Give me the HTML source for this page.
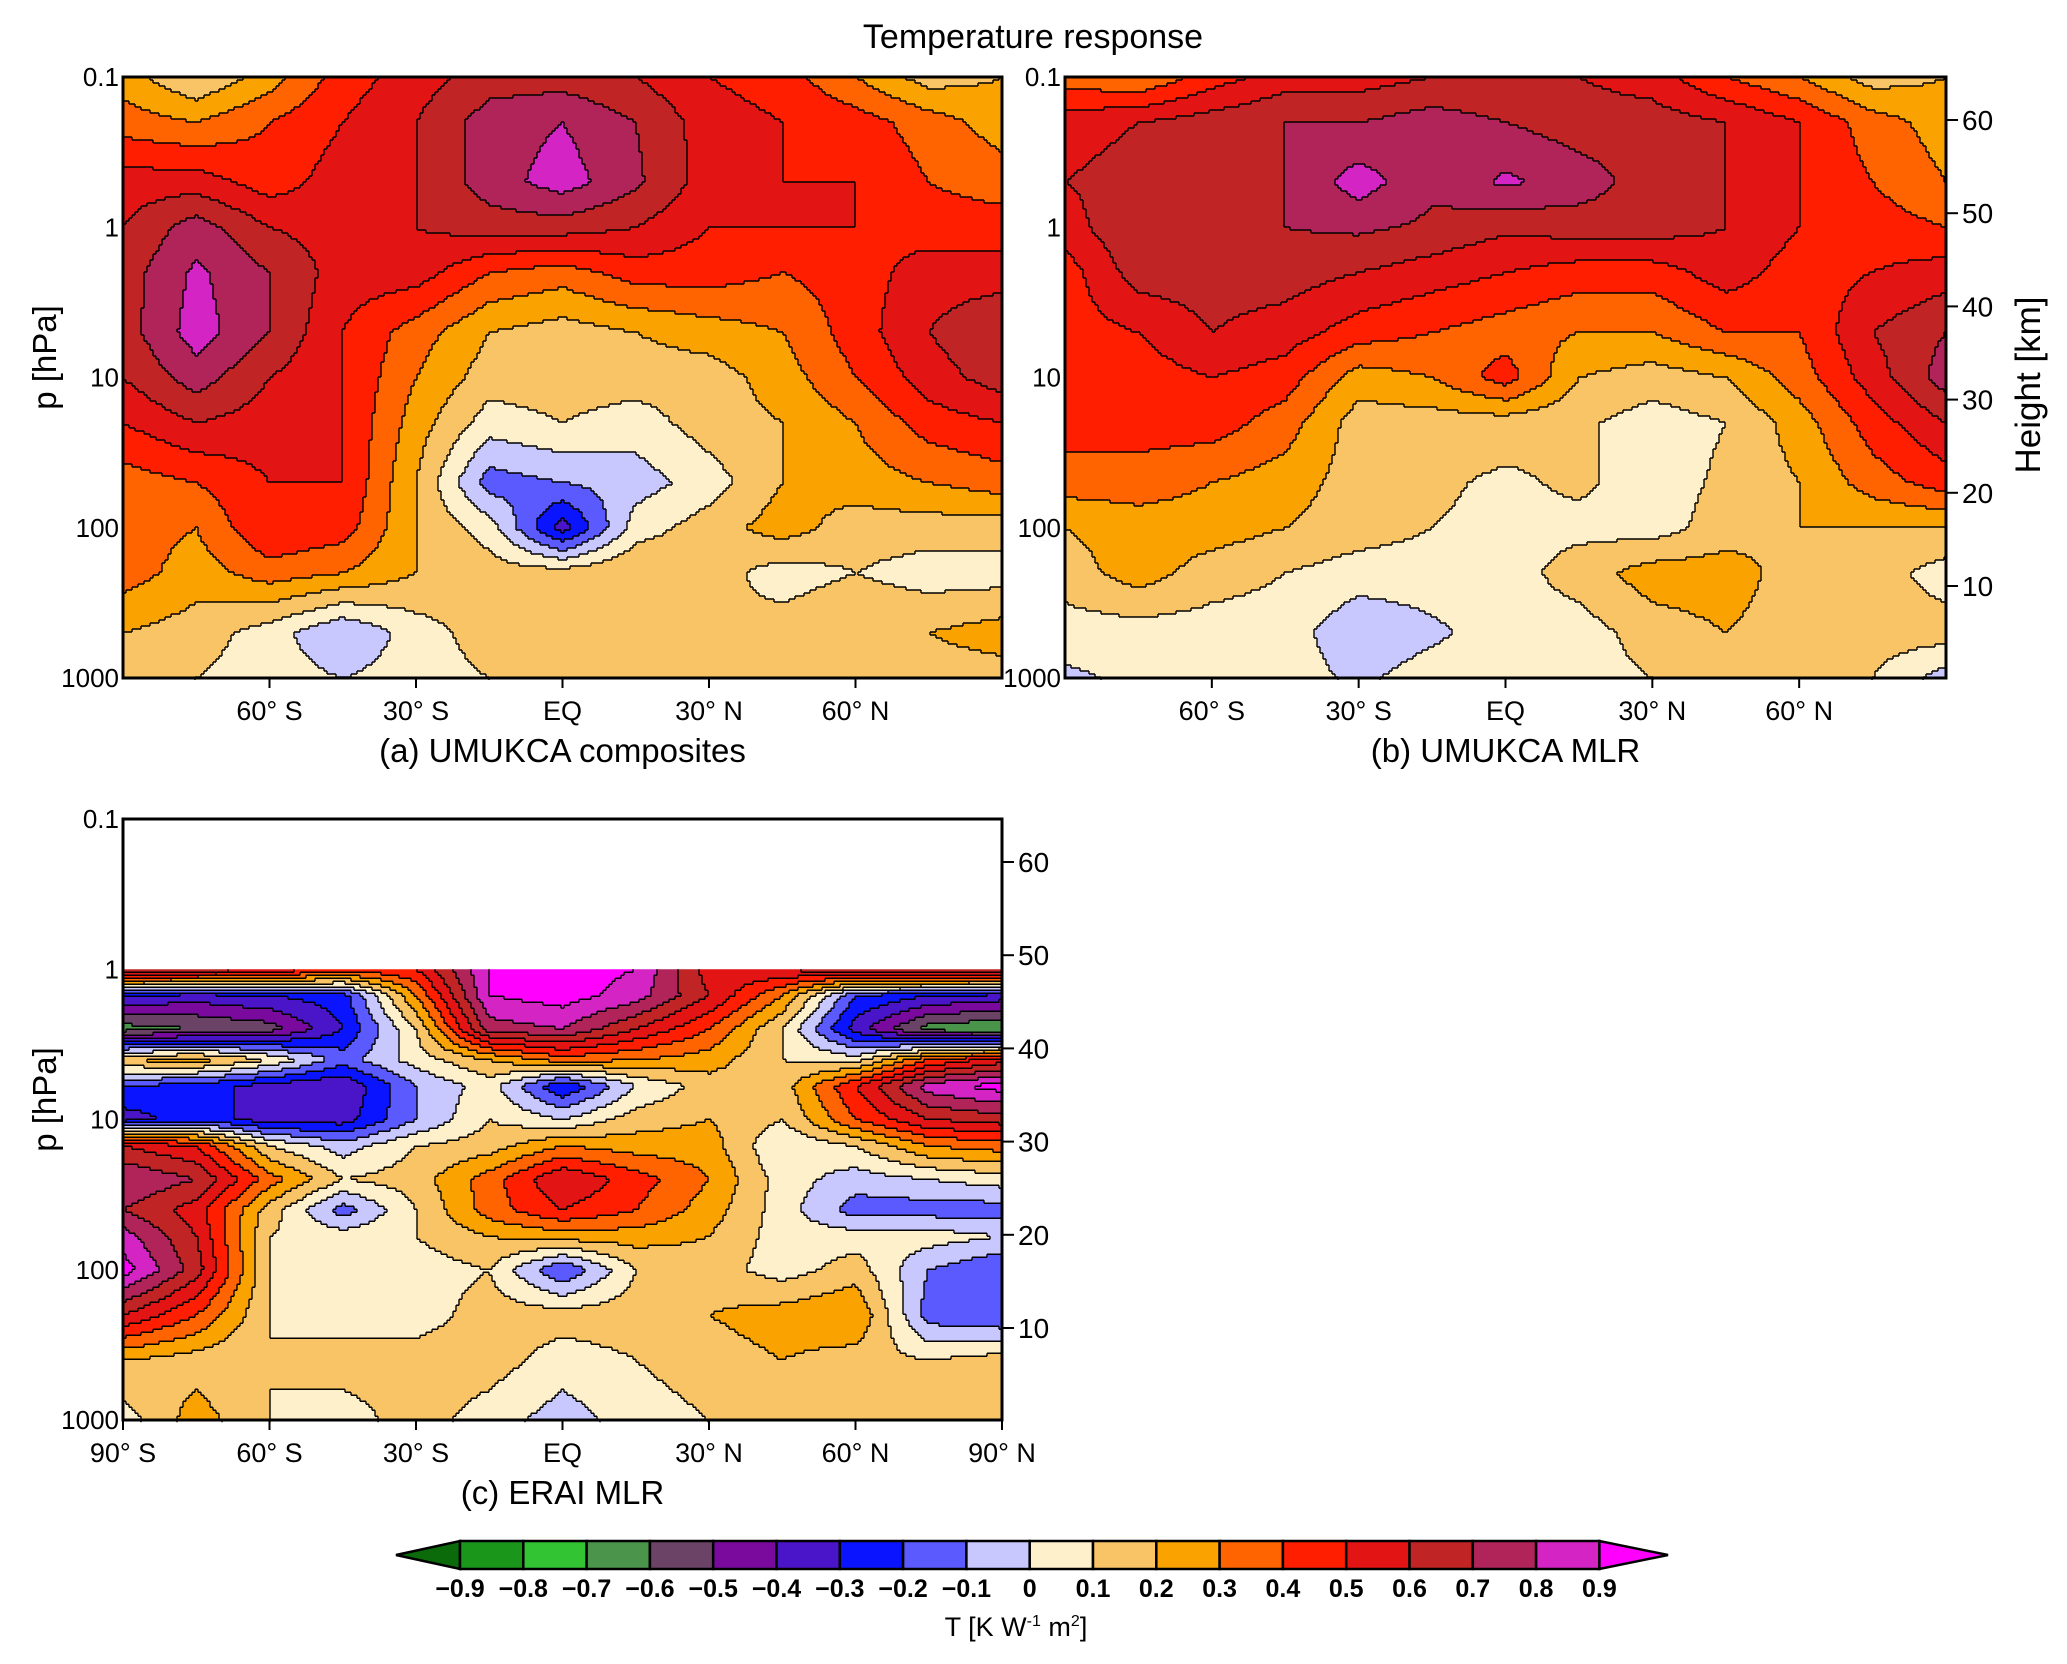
<!DOCTYPE html>
<html><head><meta charset="utf-8"><style>
body{margin:0;background:#fff;}
svg{display:block;font-family:"Liberation Sans",sans-serif;}
</style></head><body>
<svg id="fig" width="2067" height="1664" viewBox="0 0 2067 1664" xmlns="http://www.w3.org/2000/svg">
<text x="1033" y="48" font-size="34" text-anchor="middle">Temperature response</text>
<g id="pa"></g>
<g id="pb"></g>
<g id="pc"></g>
<g id="cb"></g>
</svg>
<script>
const lats = [-90,-75,-60,-45,-30,-15,0,15,30,45,60,75,90];
const presAB = [0.1,0.2,0.5,1,2,5,10,20,50,100,200,500,1000];
const valsA = [
[0.25,0.1,0.25,0.45,0.55,0.65,0.65,0.6,0.5,0.45,0.3,0.15,0.2],
[0.35,0.3,0.4,0.5,0.6,0.75,0.8,0.7,0.55,0.5,0.45,0.35,0.25],
[0.55,0.55,0.45,0.55,0.6,0.75,0.85,0.72,0.55,0.5,0.5,0.4,0.35],
[0.6,0.75,0.6,0.55,0.6,0.65,0.65,0.6,0.5,0.5,0.5,0.45,0.45],
[0.65,0.82,0.7,0.55,0.55,0.4,0.35,0.45,0.45,0.4,0.45,0.55,0.55],
[0.65,0.85,0.7,0.5,0.35,0.2,0.15,0.2,0.25,0.3,0.45,0.6,0.7],
[0.6,0.75,0.6,0.5,0.3,0.15,0.15,0.15,0.15,0.25,0.4,0.55,0.65],
[0.5,0.6,0.55,0.5,0.25,0.05,0.1,0.05,0.15,0.2,0.3,0.45,0.5],
[0.35,0.4,0.5,0.5,0.2,-0.15,-0.1,-0.05,0.05,0.2,0.25,0.3,0.35],
[0.35,0.3,0.5,0.45,0.2,0.05,-0.35,0.05,0.15,0.25,0.15,0.15,0.15],
[0.35,0.25,0.35,0.3,0.2,0.15,0.15,0.2,0.15,0.05,0.1,0.05,0.05],
[0.2,0.15,0.05,-0.1,0.05,0.15,0.2,0.15,0.1,0.15,0.2,0.2,0.25],
[0.2,0.1,0.05,0.0,0.05,0.1,0.15,0.15,0.1,0.15,0.15,0.15,0.15]];
const valsB = [
[0.35,0.3,0.45,0.55,0.55,0.6,0.6,0.6,0.55,0.4,0.3,0.15,0.2],
[0.55,0.6,0.65,0.7,0.7,0.75,0.7,0.65,0.65,0.6,0.5,0.35,0.25],
[0.6,0.65,0.65,0.7,0.85,0.72,0.82,0.75,0.65,0.6,0.5,0.4,0.3],
[0.55,0.7,0.65,0.7,0.72,0.68,0.62,0.65,0.65,0.6,0.5,0.45,0.4],
[0.45,0.65,0.65,0.65,0.6,0.55,0.5,0.45,0.45,0.55,0.45,0.5,0.55],
[0.45,0.5,0.6,0.55,0.45,0.4,0.35,0.3,0.3,0.4,0.4,0.6,0.7],
[0.45,0.45,0.5,0.45,0.25,0.3,0.45,0.2,0.15,0.2,0.35,0.55,0.75],
[0.45,0.45,0.45,0.35,0.15,0.15,0.15,0.12,0.05,0.1,0.25,0.45,0.6],
[0.35,0.35,0.3,0.25,0.15,0.12,0.08,0.12,0.05,0.12,0.2,0.35,0.45],
[0.2,0.25,0.25,0.2,0.15,0.1,0.07,0.07,0.05,0.15,0.2,0.2,0.2],
[0.15,0.25,0.15,0.1,0.05,0.05,0.05,0.15,0.25,0.25,0.15,0.15,0.05],
[0.05,0.05,0.05,0.05,-0.08,-0.02,0.05,0.05,0.15,0.2,0.15,0.15,0.15],
[-0.02,0.02,0.05,0.05,-0.02,0.05,0.05,0.05,0.1,0.1,0.15,0.1,-0.05]];
const presC = [1,1.5,2.5,4,6,10,15,25,40,60,100,200,400,1000];
const valsC = [
[0.75,0.7,0.6,0.45,0.5,0.9,0.95,0.9,0.55,0.6,0.7,0.75,0.75],
[-0.3,-0.35,-0.3,-0.25,0.3,0.9,0.95,0.85,0.6,0.3,-0.2,-0.3,-0.35],
[-0.65,-0.6,-0.55,-0.3,0.1,0.75,0.8,0.6,0.4,0.1,-0.35,-0.65,-0.7],
[0.2,0.25,0.1,-0.15,0.05,0.2,0.35,0.3,0.25,0.1,0.05,0.4,0.55],
[-0.2,-0.25,-0.35,-0.4,-0.1,0.05,-0.3,0.0,0.15,0.15,0.5,0.85,0.95],
[-0.35,-0.25,-0.35,-0.35,-0.1,0.1,0.0,0.15,0.2,0.1,0.4,0.6,0.65],
[0.6,0.5,0.1,-0.05,0.1,0.15,0.3,0.25,0.25,0.0,0.1,0.3,0.35],
[0.8,0.7,0.35,0.1,0.15,0.35,0.6,0.45,0.3,0.05,-0.05,0.0,0.05],
[0.7,0.55,0.15,-0.15,0.1,0.35,0.5,0.4,0.25,0.05,-0.15,-0.15,-0.15],
[0.85,0.6,0.1,0.05,0.1,0.2,0.25,0.25,0.2,0.05,0.05,0.05,0.0],
[0.95,0.65,0.1,0.05,0.05,0.1,-0.2,0.1,0.15,0.05,0.15,-0.1,-0.2],
[0.6,0.4,0.1,0.05,0.05,0.15,0.15,0.15,0.2,0.25,0.3,-0.15,-0.2],
[0.2,0.15,0.1,0.15,0.15,0.15,0.05,0.1,0.15,0.2,0.15,0.1,0.15],
[0.05,0.25,0.1,0.05,0.15,0.05,-0.05,0.05,0.1,0.2,0.15,0.2,0.1]];
const cbLabels = ["−0.9","−0.8","−0.7","−0.6","−0.5","−0.4","−0.3","−0.2","−0.1","0","0.1","0.2","0.3","0.4","0.5","0.6","0.7","0.8","0.9"];
const pTicks = [0.1,1,10,100,1000];
const pTickLabels = ["0.1","1","10","100","1000"];
const hTicks = [10,20,30,40,50,60];
const COLORS = ['#0b6b0b','#1a961a','#32c432','#4b944b','#6b4366','#7a0a9e','#4a14c8','#0a14ff','#5a5aff','#c8c8ff','#fff0cc','#f9c466','#f9a200','#ff6400','#ff1e00','#e21414','#c02424','#b0245a','#d424c4','#ff00ff'];
const NS='http://www.w3.org/2000/svg';
function mk(tag,attrs,parent){const e=document.createElementNS(NS,tag);for(const k in attrs)e.setAttribute(k,attrs[k]);parent.appendChild(e);return e;}
function level(v){let i=Math.floor(v*10+1e-9);if(i<-10)i=-10;if(i>9)i=9;return i+10;}
function interp(grid,pres,lat,p){
  const lp=Math.log10(p);let r=0;
  while(r<pres.length-2 && Math.log10(pres[r+1])<lp) r++;
  const l0=Math.log10(pres[r]),l1=Math.log10(pres[r+1]);
  let ty=(lp-l0)/(l1-l0);ty=Math.max(0,Math.min(1,ty));
  let c=Math.floor((lat+90)/15);if(c>11)c=11;if(c<0)c=0;
  let tx=(lat-lats[c])/15;tx=Math.max(0,Math.min(1,tx));
  const a=grid[r][c],b=grid[r][c+1],d=grid[r+1][c],e=grid[r+1][c+1];
  return (a*(1-tx)+b*tx)*(1-ty)+(d*(1-tx)+e*tx)*ty;
}
function panel(gid,x0,x1,y0,y1,grid,pres,pTop,opts){
  const g=document.getElementById(gid);
  const W=x1-x0,H=y1-y0;
  const xs=lat=>x0+(lat+90)/180*W;
  const ys=p=>y0+(Math.log10(p)-Math.log10(0.1))/4*H;
  const dTop=ys(pTop);
  const cell=3;
  const nx=Math.ceil(W/cell),ny=Math.ceil((y1-dTop)/cell);
  const L=[];
  for(let j=0;j<ny;j++){const row=[];const yy=dTop+(j+0.5)*cell;const p=Math.pow(10,(yy-y0)/H*4-1);
    for(let i=0;i<nx;i++){const lat=-90+((i+0.5)*cell)/W*180;row.push(level(interp(grid,pres,lat,p)));}L.push(row);}
  const cg=mk('g',{},g);
  
  
  for(let j=0;j<ny;j++){let i=0;while(i<nx){let k=i;while(k+1<nx&&L[j][k+1]===L[j][i])k++;
    const rx=x0+i*cell,ry=dTop+j*cell;
    const r=mk('rect',{x:rx,y:ry,width:Math.min((k-i+1)*cell,x1-rx)+0.4,height:Math.min(cell,y1-ry)+0.4,fill:COLORS[L[j][i]]},cg);
    
    
    i=k+1;}}
  let d='';
  for(let j=0;j<ny;j++)for(let i=0;i<nx;i++){
    const X=x0+i*cell,Y=dTop+j*cell;
    if(i+1<nx&&L[j][i+1]!==L[j][i])d+=`M${X+cell},${Y}v${cell}`;
    if(j+1<ny&&L[j+1][i]!==L[j][i])d+=`M${X},${Y+cell}h${cell}`;}
  const cl=mk('path',{d:d,stroke:'#000','stroke-width':1.4,fill:'none'},g);
  
  
  const fr=mk('rect',{x:x0,y:y0,width:W,height:H,fill:'none',stroke:'#000','stroke-width':3},g);
  
  
  if(opts.left){pTicks.forEach((p,i)=>{const t=mk('text',{x:x0-4,y:ys(p)+9,'font-size':26,'text-anchor':'end'},g);t.textContent=pTickLabels[i];
    });}
  opts.xt.forEach(lat=>{mk('line',{x1:xs(lat),x2:xs(lat),y1:y1,y2:y1+10,stroke:'#000','stroke-width':2},g);
    const t=mk('text',{x:xs(lat),y:y1+42,'font-size':27,'text-anchor':'middle'},g);
    t.textContent=lat===0?'EQ':Math.abs(lat)+'° '+(lat<0?'S':'N');
    });
  if(opts.right){hTicks.forEach(h=>{const yy=y0+43+(60-h)*93.2/10;mk('line',{x1:x1,x2:x1+12,y1:yy,y2:yy,stroke:'#000','stroke-width':2},g);
    const t=mk('text',{x:x1+16,y:yy+10,'font-size':28},g);t.textContent=h;
    });}
  const cap=mk('text',{x:(x0+x1)/2,y:y1+84,'font-size':33,'text-anchor':'middle'},g);cap.textContent=opts.cap;
  
  if(opts.ylab){const t=mk('text',{x:0,y:0,'font-size':33,'text-anchor':'middle',transform:`translate(56,${(y0+y1)/2-20}) rotate(-90)`},g);t.textContent='p [hPa]';
    }
}
panel('pa',123,1002,77,678,valsA,presAB,0.1,{left:true,xt:[-60,-30,0,30,60],cap:'(a) UMUKCA composites',ylab:true});
panel('pb',1065,1946,77,678,valsB,presAB,0.1,{left:true,right:true,xt:[-60,-30,0,30,60],cap:'(b) UMUKCA MLR'});
panel('pc',123,1002,819,1420,valsC,presC,1,{left:true,right:true,xt:[-90,-60,-30,0,30,60,90],cap:'(c) ERAI MLR',ylab:true});
{const s=document.getElementById('fig');const t=mk('text',{x:0,y:0,'font-size':35,'text-anchor':'middle',transform:'translate(2040,385) rotate(-90)'},s);t.textContent='Height [km]';
}
{const g=document.getElementById('cb');const bx0=460,bw=63.3,by0=1541,by1=1569;
 const lt=mk('polygon',{points:`${bx0},${by0} ${bx0},${by1} 396,${(by0+by1)/2}`,fill:COLORS[0],stroke:'#000','stroke-width':2.5},g);
 
 for(let i=0;i<18;i++){const r=mk('rect',{x:bx0+i*bw,y:by0,width:bw,height:by1-by0,fill:COLORS[i+1],stroke:'#000','stroke-width':2.5},g);
   }
 const xe=bx0+18*bw;
 const rt=mk('polygon',{points:`${xe},${by0} ${xe},${by1} 1668,${(by0+by1)/2}`,fill:COLORS[19],stroke:'#000','stroke-width':2.5},g);
 
 cbLabels.forEach((s,i)=>{const t=mk('text',{x:bx0+i*bw,y:1597,'font-size':25,'font-weight':'bold','text-anchor':'middle'},g);t.textContent=s;
   });
 const u=mk('text',{x:1016,y:1636,'font-size':27,'text-anchor':'middle'},g);
 u.innerHTML='T [K W<tspan font-size="16" dy="-10">-1</tspan><tspan dy="10"> m</tspan><tspan font-size="16" dy="-10">2</tspan><tspan dy="10">]</tspan>';
 }
</script>
</body></html>
